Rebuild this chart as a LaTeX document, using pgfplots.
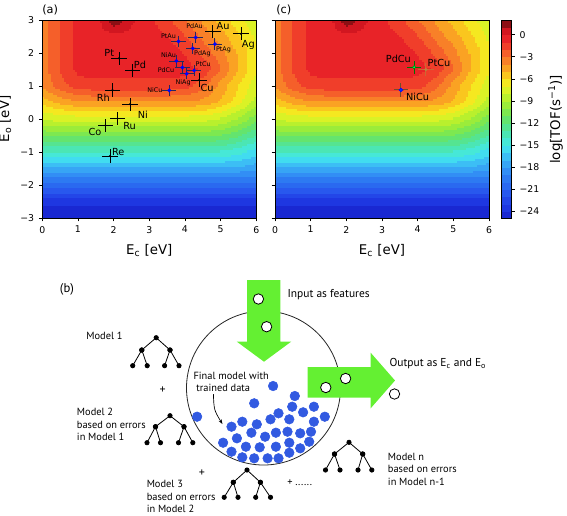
\documentclass[border=0pt]{standalone}
\usepackage{pgfplots}
\pgfplotsset{compat=1.18}
\usepgfplotslibrary{patchplots}
\usepackage{pgfplotstable}
\usepackage{fontspec}
\setmainfont{DejaVu Sans}
\newfontfamily\bfont{PT Sans}
\usetikzlibrary{arrows.meta}

\definecolor{agreen}{RGB}{100,240,50}
\definecolor{dotblue}{RGB}{50,90,225}
\definecolor{alloybar}{RGB}{40,40,90}

\pgfplotstableread[row sep=\\]{
x y z\\
0 -3 -26.5\\ 0.5 -3 -26.5\\ 1 -3 -26.5\\ 1.5 -3 -26.5\\ 2 -3 -26.5\\ 2.5 -3 -26.5\\ 3 -3 -26.5\\ 3.5 -3 -26.5\\ 4 -3 -26.5\\ 4.5 -3 -26.5\\ 5 -3 -26.5\\ 5.5 -3 -26.5\\ 6 -3 -26.5\\
0 -2.5 -23.5\\ 0.5 -2.5 -23.5\\ 1 -2.5 -23.5\\ 1.5 -2.5 -23.5\\ 2 -2.5 -23.5\\ 2.5 -2.5 -23.5\\ 3 -2.5 -23.5\\ 3.5 -2.5 -23.5\\ 4 -2.5 -23.5\\ 4.5 -2.5 -23.5\\ 5 -2.5 -23.5\\ 5.5 -2.5 -23.5\\ 6 -2.5 -23.5\\
0 -2 -20.3\\ 0.5 -2 -20.3\\ 1 -2 -20.3\\ 1.5 -2 -20.3\\ 2 -2 -20.3\\ 2.5 -2 -20.3\\ 3 -2 -20.3\\ 3.5 -2 -20.3\\ 4 -2 -20.3\\ 4.5 -2 -20.3\\ 5 -2 -20.3\\ 5.5 -2 -20.3\\ 6 -2 -20.3\\
0 -1.5 -17.1\\ 0.5 -1.5 -17.1\\ 1 -1.5 -17.1\\ 1.5 -1.5 -17.1\\ 2 -1.5 -17.1\\ 2.5 -1.5 -17.1\\ 3 -1.5 -17.1\\ 3.5 -1.5 -17.1\\ 4 -1.5 -17.1\\ 4.5 -1.5 -17.1\\ 5 -1.5 -17.1\\ 5.5 -1.5 -17.2\\ 6 -1.5 -17.6\\
0 -1 -13.9\\ 0.5 -1 -13.9\\ 1 -1 -13.9\\ 1.5 -1 -13.9\\ 2 -1 -13.9\\ 2.5 -1 -13.9\\ 3 -1 -13.9\\ 3.5 -1 -13.9\\ 4 -1 -13.9\\ 4.5 -1 -13.9\\ 5 -1 -14.0\\ 5.5 -1 -14.5\\ 6 -1 -15.5\\
0 -0.5 -10.8\\ 0.5 -0.5 -10.6\\ 1 -0.5 -10.6\\ 1.5 -0.5 -10.6\\ 2 -0.5 -10.6\\ 2.5 -0.5 -10.6\\ 3 -0.5 -10.6\\ 3.5 -0.5 -10.6\\ 4 -0.5 -10.6\\ 4.5 -0.5 -10.6\\ 5 -0.5 -10.9\\ 5.5 -0.5 -11.7\\ 6 -0.5 -13.0\\
0 0 -7.8\\ 0.5 0 -7.5\\ 1 0 -7.4\\ 1.5 0 -7.4\\ 2 0 -7.4\\ 2.5 0 -7.4\\ 3 0 -7.4\\ 3.5 0 -7.4\\ 4 0 -7.4\\ 4.5 0 -7.5\\ 5 0 -8.0\\ 5.5 0 -9.1\\ 6 0 -10.6\\
0 0.5 -5.6\\ 0.5 0.5 -4.6\\ 1 0.5 -4.0\\ 1.5 0.5 -4.0\\ 2 0.5 -4.0\\ 2.5 0.5 -4.0\\ 3 0.5 -4.0\\ 3.5 0.5 -4.0\\ 4 0.5 -4.0\\ 4.5 0.5 -4.3\\ 5 0.5 -5.1\\ 5.5 0.5 -6.6\\ 6 0.5 -8.6\\
0 1 -3.7\\ 0.5 1 -2.4\\ 1 1 -1.4\\ 1.5 1 -1.3\\ 2 1 -1.3\\ 2.5 1 -1.3\\ 3 1 -1.3\\ 3.5 1 -1.3\\ 4 1 -1.5\\ 4.5 1 -2.7\\ 5 1 -4.4\\ 5.5 1 -6.0\\ 6 1 -7.6\\
0 1.5 -3.6\\ 0.5 1.5 -1.8\\ 1 1.5 -0.7\\ 1.5 1.5 -0.5\\ 2 1.5 -0.5\\ 2.5 1.5 -0.5\\ 3 1.5 -0.5\\ 3.5 1.5 -0.5\\ 4 1.5 -0.6\\ 4.5 1.5 -1.2\\ 5 1.5 -3.0\\ 5.5 1.5 -5.0\\ 6 1.5 -7.0\\
0 2 -3.6\\ 0.5 2 -1.8\\ 1 2 -0.6\\ 1.5 2 -0.5\\ 2 2 -0.5\\ 2.5 2 -0.5\\ 3 2 -0.5\\ 3.5 2 -0.5\\ 4 2 -1.1\\ 4.5 2 -2.3\\ 5 2 -3.7\\ 5.5 2 -5.2\\ 6 2 -6.9\\
0 2.5 -3.6\\ 0.5 2.5 -1.8\\ 1 2.5 -0.6\\ 1.5 2.5 -0.5\\ 2 2.5 -0.3\\ 2.5 2.5 -0.4\\ 3 2.5 -0.5\\ 3.5 2.5 -1.0\\ 4 2.5 -2.0\\ 4.5 2.5 -3.4\\ 5 2.5 -4.6\\ 5.5 2.5 -5.9\\ 6 2.5 -7.3\\
0 3 -3.6\\ 0.5 3 -1.8\\ 1 3 -0.6\\ 1.5 3 -0.5\\ 2 3 2.0\\ 2.5 3 0.2\\ 3 3 -0.7\\ 3.5 3 -1.8\\ 4 3 -3.0\\ 4.5 3 -4.2\\ 5 3 -5.4\\ 5.5 3 -6.7\\ 6 3 -8.0\\
}\tofdata

\pgfplotsset{
  tofmap/.style={
    colormap={tof}{
      rgb255=(25,40,210) rgb255=(30,55,225) rgb255=(35,70,232) rgb255=(40,88,238)
      rgb255=(42,105,240) rgb255=(45,122,242) rgb255=(50,142,245) rgb255=(55,165,245)
      rgb255=(60,190,245) rgb255=(65,220,240) rgb255=(70,232,215) rgb255=(75,230,180)
      rgb255=(85,228,145) rgb255=(100,228,110) rgb255=(125,232,80) rgb255=(155,236,58)
      rgb255=(185,240,45) rgb255=(218,242,38) rgb255=(245,232,32) rgb255=(250,198,30)
      rgb255=(250,162,35) rgb255=(248,128,40) rgb255=(245,95,42) rgb255=(240,62,42)
      rgb255=(232,35,40) rgb255=(210,22,32) rgb255=(140,15,20)
    },
    colormap access=piecewise constant,
    point meta min=-25, point meta max=2,
  },
  panel/.style={
    scale only axis, width=160.5pt, height=148.5pt,
    xmin=0, xmax=6, ymin=-3, ymax=3,
    xtick={0,1,2,3,4,5,6}, ytick={-3,-2,-1,0,1,2,3},
    xticklabels={0,1,2,3,4,5,6},
    tick pos=left, tick align=outside, major tick length=2.6pt,
    tick style={black, line width=0.5pt},
    axis line style={line width=0.6pt},
    tick label style={font=\fontsize{7}{8}\selectfont},
    label style={font=\fontsize{10}{12}\selectfont},
    xlabel={E\textsubscript{c} [eV]},
    xlabel style={yshift=-1.5pt},
    axis on top, tofmap,
  },
}
\tikzset{
  metal/.style={font=\fontsize{7.3}{8}\selectfont},
  alloy/.style={font=\fontsize{4.8}{5}\selectfont},
  btext/.style={font=\bfont\fontsize{7.8}{9.4}\selectfont, align=left, anchor=west, inner sep=0pt},
  tree/.style={black, line width=0.6pt, mark=*, mark size=1.6pt, mark options={black}},
}

\begin{document}
\begin{tikzpicture}
\useasboundingbox (0,0) rectangle (425.25pt,-386.25pt);

% ---------------- panel (a)
\begin{axis}[panel, at={(31.7pt,-15pt)}, anchor=north west,
  yticklabels={−3,−2,−1,0,1,2,3},
  ylabel={E\textsubscript{o} [eV]}]
\addplot[surf, shader=interp, patch type=bilinear, mesh/rows=13, mesh/cols=13, point meta=\thisrow{z}] table[x=x, y=y] {\tofdata};
\addplot[only marks, mark=*, mark size=0.5pt, black,
  error bars/.cd, x dir=both, x fixed=0.22, y dir=both, y fixed=0.2,
  error mark=none, error bar style={line width=0.6pt, black}]
  coordinates {(4.78,2.65) (5.57,2.58) (2.15,1.84) (2.53,1.48) (4.40,1.18)
               (1.97,0.88) (2.46,0.45) (2.11,0.02) (1.77,-0.19) (1.90,-1.12)};
\addplot[only marks, mark=*, mark size=1.2pt, blue,
  error bars/.cd, x dir=both, x fixed=0.2, y dir=both, y fixed=0.17,
  error mark=none, error bar style={line width=0.6pt, alloybar}]
  coordinates {(4.30,2.47) (3.82,2.35) (4.22,2.14) (4.84,2.27) (3.76,1.76)
               (3.93,1.56) (4.26,1.47) (4.05,1.37) (3.56,0.87)};
\node[metal] at (axis cs:5.07,2.83) {Au};
\node[metal] at (axis cs:5.78,2.24) {Ag};
\node[metal] at (axis cs:1.88,1.99) {Pt};
\node[metal] at (axis cs:2.74,1.64) {Pd};
\node[metal] at (axis cs:4.62,0.93) {Cu};
\node[metal] at (axis cs:1.71,0.65) {Rh};
\node[metal] at (axis cs:2.82,0.12) {Ni};
\node[metal] at (axis cs:2.45,-0.21) {Ru};
\node[metal] at (axis cs:1.48,-0.38) {Co};
\node[metal] at (axis cs:2.13,-0.99) {Re};
\node[alloy] at (axis cs:4.27,2.80) {PdAu};
\node[alloy] at (axis cs:3.54,2.50) {PtAu};
\node[alloy] at (axis cs:4.49,1.97) {PdAg};
\node[alloy] at (axis cs:5.08,2.11) {PtAg};
\node[alloy] at (axis cs:3.54,1.94) {NiAu};
\node[alloy] at (axis cs:3.47,1.48) {PdCu};
\node[alloy] at (axis cs:4.51,1.66) {PtCu};
\node[alloy] at (axis cs:3.95,1.11) {NiAg};
\node[alloy] at (axis cs:3.16,0.88) {NiCu};
\end{axis}

% ---------------- panel (c)
\begin{axis}[panel, at={(206.25pt,-15pt)}, anchor=north west,
  yticklabels={},
  colorbar,
  colorbar style={
    at={(parent axis.north east)}, anchor=north west, xshift=0.75pt,
    scale only axis, width=7.5pt, height=149pt,
    ytick={-24,-21,-18,-15,-12,-9,-6,-3,0},
    yticklabels={−24,−21,−18,−15,−12,−9,−6,−3,0},
    ytick pos=right, tick align=outside, major tick length=2.6pt,
    tick style={black, line width=0.5pt},
    yticklabel style={font=\fontsize{7}{8}\selectfont},
    ylabel={log[TOF(s\textsuperscript{−1})]},
    ylabel style={font=\fontsize{10}{12}\selectfont},
    axis line style={line width=0.5pt},
  }]
\addplot[surf, shader=interp, patch type=bilinear, mesh/rows=13, mesh/cols=13, point meta=\thisrow{z}] table[x=x, y=y] {\tofdata};
\addplot[only marks, mark=*, mark size=1.2pt, mark options={fill=green!60!cyan, draw=green!50!black},
  error bars/.cd, x dir=both, x fixed=0.2, y dir=both, y fixed=0.2,
  error mark=none, error bar style={line width=0.8pt, green!45!black}]
  coordinates {(3.90,1.57)};
\addplot[only marks, mark=*, mark size=1.0pt, mark options={fill=brown, draw=brown},
  error bars/.cd, x dir=both, x fixed=0.22, y dir=both, y fixed=0.2,
  error mark=none, error bar style={line width=0.8pt, brown!80!red}]
  coordinates {(4.23,1.50)};
\addplot[only marks, mark=*, mark size=1.4pt, mark options={fill=blue!80!cyan, draw=blue},
  error bars/.cd, x dir=both, x fixed=0.2, y dir=both, y fixed=0.2,
  error mark=none, error bar style={line width=0.8pt, brown!60!black}]
  coordinates {(3.53,0.88)};
\node[metal] at (axis cs:3.46,1.81) {PdCu};
\node[metal] at (axis cs:4.60,1.69) {PtCu};
\node[metal] at (axis cs:4.00,0.66) {NiCu};
\end{axis}

\begin{scope}[x=0.75pt, y=-0.75pt]
\node[anchor=west, font=\fontsize{8.5}{10}\selectfont, inner sep=0pt] at (42,10) {(a)};
\node[anchor=west, font=\fontsize{8.5}{10}\selectfont, inner sep=0pt] at (276,10) {(c)};
\end{scope}

% ---------------- panel (b)
\begin{axis}[at={(0pt,-187.5pt)}, anchor=north west, scale only axis,
  width=425.25pt, height=198.75pt, xmin=0, xmax=567, ymin=250, ymax=515,
  y dir=reverse, hide axis, clip=false]
\draw[line width=0.6pt, black!85] (axis cs:263.5,388) circle[radius=57.75pt];
\addplot[fill=agreen, draw=none] coordinates {(247,280) (280.3,280) (280.3,341.7) (291.1,341.7) (264,361.7) (236.9,341.7) (247,341.7)} -- cycle;
\addplot[fill=agreen, draw=none] coordinates {(307.6,367) (370.5,367) (370.5,352.5) (395,380.5) (370.5,408.5) (370.5,397.5) (307.6,397.5)} -- cycle;
\addplot[only marks, mark=*, mark size=3.9pt, mark options={fill=white, draw=black, line width=0.6pt}]
  coordinates {(258.4,299) (266.6,326.7) (325.8,387.5) (345.6,378.5) (394.5,394)};
\addplot[only marks, mark=*, mark size=3.6pt, dotblue] coordinates {
 (273.1,386) (294.8,396) (254.2,403.3) (197.1,416.7) (292.2,406.7) (313.9,406.7)
 (303.1,412.3) (278.5,413.3) (324.8,416.7) (231.5,426.7) (242.3,421.7) (256.8,424.3)
 (270.5,419.3) (289.3,419.3) (313.9,421.7) (236.9,438.3) (251.4,432.7) (265.1,436.7)
 (275.9,432.7) (287.5,431.7) (300.2,433.3) (311,431.7) (223.1,442.7) (245.9,446.7)
 (259.7,447.3) (275.9,446.7) (289.3,442.7) (300.2,448.3) (309.2,441.7) (231.5,451.7)
 (242.3,457.3) (254.2,458.3) (267.6,458.3) (278.5,458.3) (289.3,452.7)};
% trees
\addplot[tree] coordinates {(141.8,350) (156.2,337.7) (170,350)};
\addplot[tree] coordinates {(132.7,365.7) (141.8,350) (147.2,365.7)};
\addplot[tree] coordinates {(164.6,365.7) (170,350) (179,365.7)};
\addplot[tree] coordinates {(155.5,426.7) (170,415.7) (184,426.7)};
\addplot[tree] coordinates {(147,442.7) (155.5,426.7) (160.5,442.7)};
\addplot[tree] coordinates {(178.5,442.7) (184,426.7) (192.8,442.7)};
\addplot[tree] coordinates {(233.3,482.3) (247,470) (260.4,482.3)};
\addplot[tree] coordinates {(224.2,497.3) (233.3,482.3) (238,497.3)};
\addplot[tree] coordinates {(255.7,497.3) (260.4,482.3) (270.5,497.3)};
\addplot[tree] coordinates {(334.5,454) (349,442.3) (362.7,454)};
\addplot[tree] coordinates {(325.5,470) (334.5,454) (340,470)};
\addplot[tree] coordinates {(358,470) (362.7,454) (371.8,470)};
\draw[-{Stealth[length=3.5pt,width=2.5pt]}, line width=0.5pt] (axis cs:213.4,394) .. controls (axis cs:214,410) .. (axis cs:222.4,424);
\node[btext, font=\bfont\fontsize{9.5}{10}\selectfont] at (axis cs:59.7,289) {(b)};
\node[btext, font=\bfont\fontsize{8.6}{10}\selectfont] at (axis cs:287.3,295) {Input as features};
\node[btext, font=\bfont\fontsize{8.6}{10}\selectfont] at (axis cs:389.3,364) {Output as E\textsubscript{c} and E\textsubscript{o}};
\node[btext] at (axis cs:86.1,336) {Model 1};
\node[btext, anchor=center, font=\bfont\fontsize{9}{10}\selectfont] at (axis cs:162.7,390) {+};
\node[btext] at (axis cs:76.7,424.5) {Model 2\\based on errors\\in Model 1};
\node[btext] at (axis cs:193.3,382) {Final model with\\\ trained data};
\node[btext, anchor=center, font=\bfont\fontsize{9}{10}\selectfont] at (axis cs:201.8,473) {+};
\node[btext] at (axis cs:146.5,496.5) {Model 3\\based on errors\\in Model 2};
\node[btext] at (axis cs:287,483) {+ ......};
\node[btext] at (axis cs:387.7,469) {Model n\\based on errors\\in Model n-1};
\end{axis}
\end{tikzpicture}
\end{document}
